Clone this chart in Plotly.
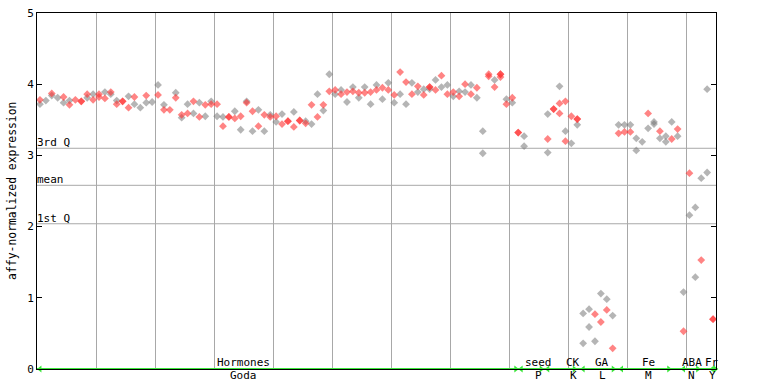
import plotly.graph_objects as go

# ---- data -------------------------------------------------------------
# sample index (x) and affy-normalized expression (y), split by marker colour
red_x = [0, 2, 4, 5, 6, 7, 7, 8, 9, 10, 10, 11, 12, 13, 14, 14, 15, 16, 18, 20,
         21, 22, 23, 24, 25, 26, 27, 28, 29, 30, 31, 32, 32, 33, 34, 35, 36, 37, 38, 39,
         40, 41, 42, 42, 43, 44, 44, 45, 46, 47, 48, 49, 50, 51, 52, 53, 54, 55, 56, 57,
         58, 59, 60, 61, 62, 63, 64, 65, 66, 66, 67, 68, 69, 70, 71, 72, 73, 74, 76, 76,
         77, 78, 78, 78, 79, 80, 81, 81, 86, 87, 87, 88, 88, 89, 89, 90, 91, 91,
         94, 95, 96, 97, 98, 99, 100, 103, 105, 107, 108, 109, 110, 112, 114, 114]
red_y = [3.78, 3.87, 3.82, 3.71, 3.78, 3.76, 3.76, 3.86, 3.78, 3.86, 3.82, 3.80, 3.89, 3.72, 3.76, 3.76, 3.67, 3.82, 3.84, 3.85,
         3.64, 3.64, 3.81, 3.57, 3.59, 3.76, 3.54, 3.71, 3.72, 3.72, 3.41, 3.54, 3.54, 3.52, 3.55, 3.74, 3.62, 3.41, 3.57, 3.54,
         3.55, 3.44, 3.48, 3.48, 3.40, 3.49, 3.49, 3.45, 3.71, 3.54, 3.71, 3.90, 3.92, 3.86, 3.89, 3.90, 3.88, 3.88, 3.89, 3.92,
         3.95, 3.92, 3.85, 4.17, 4.03, 3.86, 3.97, 3.85, 3.96, 3.96, 3.92, 4.12, 3.86, 3.89, 3.83, 4.00, 3.86, 3.95, 4.14, 4.11,
         3.96, 4.14, 4.14, 4.10, 3.72, 3.81, 3.32, 3.32, 3.23, 3.65, 3.65, 3.73, 3.59, 3.76, 3.20, 3.55, 3.51, 3.51,
         0.77, 0.66, 0.83, 0.29, 3.31, 3.33, 3.33, 3.59, 3.34, 3.23, 3.37, 0.53, 2.75, 1.53, 0.70, 0.70]

grey_x = [0, 1, 2, 3, 4, 5, 8, 9, 11, 12, 13, 15, 16, 17, 18, 19, 20, 21, 23, 24,
          25, 26, 27, 28, 29, 30, 31, 33, 34, 35, 36, 37, 38, 39, 40, 41, 43, 45, 46, 47,
          48, 49, 50, 51, 52, 53, 54, 55, 56, 57, 58, 59, 60, 61, 62, 63, 64, 65, 66, 67,
          68, 69, 70, 71, 72, 73, 74, 75, 75, 77, 79, 80, 82, 82, 86, 86, 88, 89, 90, 91,
          92, 92, 93, 93, 94, 95, 96, 97, 98, 99, 100, 101, 101, 102, 103, 104, 104, 105, 106, 106,
          107, 108, 109, 110, 111, 111, 112, 113, 113]
grey_y = [3.72, 3.77, 3.84, 3.81, 3.74, 3.77, 3.81, 3.86, 3.89, 3.86, 3.77, 3.83, 3.72, 3.67, 3.74, 3.75, 3.99, 3.71, 3.88, 3.53,
          3.72, 3.59, 3.74, 3.55, 3.76, 3.55, 3.54, 3.62, 3.36, 3.76, 3.34, 3.64, 3.34, 3.57, 3.47, 3.58, 3.61, 3.48, 3.44, 3.86,
          3.63, 4.14, 3.86, 3.92, 3.75, 3.96, 3.81, 3.96, 3.72, 3.99, 3.79, 4.02, 3.74, 3.86, 3.72, 4.02, 3.89, 3.93, 3.93, 4.06,
          3.96, 3.99, 3.83, 3.90, 3.89, 3.99, 3.81, 3.34, 3.03, 4.06, 3.79, 3.74, 3.27, 3.13, 3.58, 3.04, 3.97, 3.34, 3.17, 3.43,
          0.78, 0.36, 0.84, 0.59, 0.39, 1.06, 0.98, 0.75, 3.43, 3.43, 3.43, 3.24, 3.07, 3.19, 3.38, 3.47, 3.44, 3.24, 3.27, 3.19,
          3.47, 3.27, 1.08, 2.16, 2.27, 1.29, 2.68, 2.76, 3.93]

# reference lines
quart_names = ["3rd Q", "mean", "1st Q"]
quart_values = [3.10, 2.58, 2.04]

# experiment groups along the x axis
group_names = ["Hormones", "seed", "CK", "GA", "Fe", "ABA", "Fr"]
group_codes = ["Goda", "P", "K", "L", "M", "N", "Y"]
group_label_x = [34.5, 84.4, 90.3, 95.2, 103.1, 110.4, 113.9]
group_start = [0, 81.5, 86.0, 92.0, 98.5, 109.0, 113.9]
group_end = [80.6, 84.9, 90.5, 97.1, 106.5, 111.4, 114.4]

y_ticks = [0, 1, 2, 3, 4, 5]
x_grid = [9.5, 19.5, 29.5, 39.5, 49.5, 59.5, 69.5, 79.5, 89.5, 99.5, 109.5]

# ---- figure -----------------------------------------------------------
MONO = "DejaVu Sans Mono"
GREEN = "#3ce63c"
fig = go.Figure()

# quartile / mean lines
for name, v in zip(quart_names, quart_values):
    fig.add_shape(type="line", xref="paper", x0=0, x1=1, yref="y", y0=v, y1=v,
                  line=dict(color="#a8a8a8", width=1), layer="below")
    fig.add_annotation(xref="paper", x=0, yref="y", y=v, text=name, showarrow=False,
                       xanchor="left", yanchor="bottom", xshift=-2, yshift=-3,
                       font=dict(family=MONO, size=11, color="black"))

fig.add_trace(go.Scatter(x=grey_x, y=grey_y, mode="markers", hoverinfo="x+y",
                         marker=dict(symbol="diamond", size=6,
                                     color="rgba(120,120,120,0.55)", line=dict(width=0)),
                         showlegend=False))
fig.add_trace(go.Scatter(x=red_x, y=red_y, mode="markers", hoverinfo="x+y",
                         marker=dict(symbol="diamond", size=6,
                                     color="rgba(255,50,50,0.6)", line=dict(width=0)),
                         showlegend=False))

# green group arrows on the baseline
fig.add_shape(type="line", xref="paper", x0=0, x1=1, yref="y", y0=0, y1=0,
              line=dict(color=GREEN, width=2))
for s, e in zip(group_start, group_end):
    fig.add_trace(go.Scatter(x=[s, e], y=[0, 0], mode="lines+markers", cliponaxis=False,
                             line=dict(color=GREEN, width=2),
                             marker=dict(symbol=["triangle-left", "triangle-right"], size=6,
                                         color=GREEN),
                             hoverinfo="skip", showlegend=False))

for gx, gname, gcode in zip(group_label_x, group_names, group_codes):
    fig.add_annotation(x=gx, y=0, xref="x", yref="y", text=gname, showarrow=False,
                       xanchor="center", yanchor="bottom", yshift=-2,
                       font=dict(family=MONO, size=11, color="black"))
    fig.add_annotation(x=gx, y=0, xref="x", yref="y", text=gcode, showarrow=False,
                       xanchor="center", yanchor="top", yshift=2,
                       font=dict(family=MONO, size=11, color="black"))

# y axis title
fig.add_annotation(xref="paper", yref="paper", x=-0.037, y=0.5, text="affy-normalized expression",
                   textangle=-90, showarrow=False, xanchor="center", yanchor="middle",
                   font=dict(family=MONO, size=11.4, color="black"))

fig.update_layout(
    width=768, height=384,
    margin=dict(l=37, r=52, t=13, b=15, autoexpand=False),
    paper_bgcolor="white", plot_bgcolor="white",
    font=dict(family=MONO, size=11, color="black"),
    xaxis=dict(range=[-0.5, 114.5], tickvals=x_grid, showticklabels=False, ticks="",
               showgrid=True, gridcolor="#a8a8a8", gridwidth=1, zeroline=False, automargin=False,
               showline=True, linecolor="black", linewidth=1, mirror=True),
    yaxis=dict(range=[0, 5], tickvals=y_ticks, ticks="inside", ticklen=5, tickcolor="black",
               showgrid=False, zeroline=False, showline=True, linecolor="black", linewidth=1,
               automargin=False, mirror="ticks", tickfont=dict(family=MONO, size=11)),
)

fig.write_html("out.html", config={"displayModeBar": False},
               post_script="document.body.style.margin='0px';document.body.style.overflow='hidden';")
